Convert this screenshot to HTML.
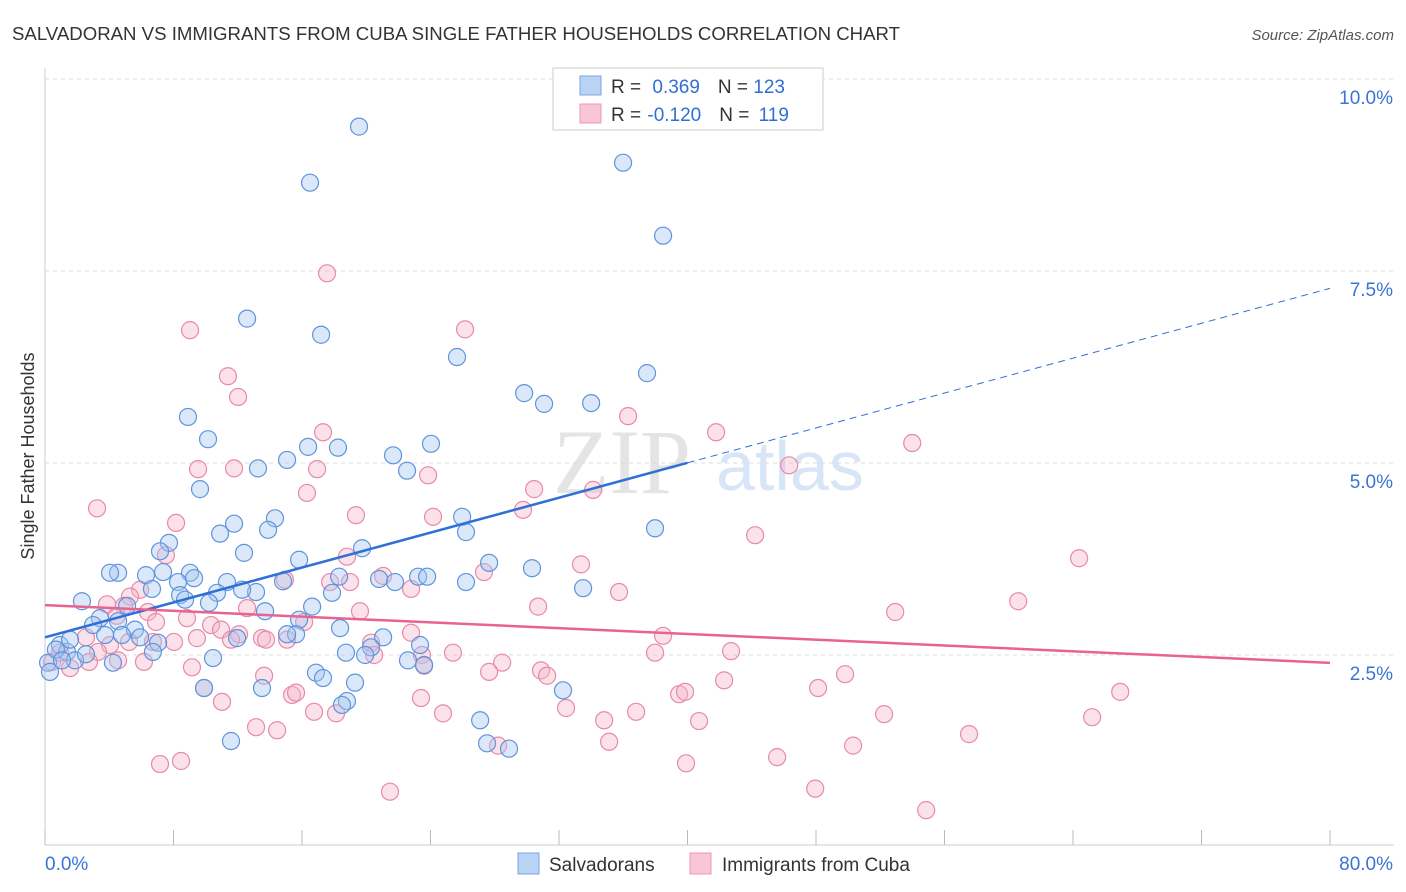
<!DOCTYPE html>
<html><head><meta charset="utf-8"><style>
body{margin:0;background:#fff;font-family:"Liberation Sans",sans-serif}
svg{display:block}
</style></head><body>
<svg id="chart" width="1406" height="892">
<text x="12" y="40" font-size="18" fill="#333" textLength="888" lengthAdjust="spacingAndGlyphs">SALVADORAN VS IMMIGRANTS FROM CUBA SINGLE FATHER HOUSEHOLDS CORRELATION CHART</text>
<text x="1394" y="40" font-size="15" fill="#555" font-style="italic" text-anchor="end">Source: ZipAtlas.com</text>
<text x="34" y="456" font-size="18" fill="#333" text-anchor="middle" transform="rotate(-90 34 456)">Single Father Households</text>
<g><text x="553" y="493" font-size="92" fill="#e4e4e4" font-family="Liberation Serif,serif">ZIP</text><text x="716" y="490" font-size="70" fill="#d7e5f6">atlas</text></g>
<g id="grid"></g><g id="axes"></g><g id="pts"></g><g id="trends"></g>
<g>
<rect x="553" y="68" width="270" height="62" fill="#fff" stroke="#ccc"/>
<rect x="580" y="76" width="21" height="19" fill="#b9d3f4" stroke="#7aa6e2"/>
<rect x="580" y="104" width="21" height="19" fill="#f8c6d6" stroke="#eb98b2"/>
<text x="611" y="93" font-size="19" fill="#333">R = <tspan fill="#2f6fd6" dx="6">0.369</tspan><tspan dx="18" fill="#333">N = </tspan><tspan fill="#2f6fd6">123</tspan></text>
<text x="611" y="121" font-size="19" fill="#333">R = <tspan fill="#2f6fd6" dx="1">-0.120</tspan><tspan dx="18" fill="#333">N = </tspan><tspan fill="#2f6fd6" dx="4">119</tspan></text>
</g>
<g>
<rect x="518" y="853" width="21" height="21" fill="#b9d3f4" stroke="#7aa6e2"/>
<text x="549" y="871" font-size="19" fill="#333">Salvadorans</text>
<rect x="690" y="853" width="21" height="21" fill="#f8c6d6" stroke="#eb98b2"/>
<text x="722" y="871" font-size="19" fill="#333">Immigrants from Cuba</text>
</g>
</svg>
<script>
const yTicks=[2.5,5.0,7.5,10.0];
const yTickLabels=["2.5%","5.0%","7.5%","10.0%"];
const xTicks=[0,8,16,24,32,40,48,56,64,72,80];
const xLabels=["0.0%","80.0%"];
const blueX=[19.55,35.99,16.5,38.48,12.58,17.19,25.65,37.48,29.83,31.07,34.0,8.9,10.15,24.03,18.24,16.38,21.67,15.07,13.26,22.54,9.65,25.97,14.32,11.77,37.98,13.89,26.21,10.9,7.72,19.74,7.16,12.39,15.82,27.65,30.32,4.55,6.29,7.35,9.03,8.28,9.28,11.33,4.05,14.82,18.31,20.8,21.79,23.23,23.79,26.21,33.5,6.66,8.41,13.14,12.27,10.71,8.72,10.21,2.3,5.11,3.42,4.55,5.6,13.7,15.82,16.63,17.87,2.99,3.74,4.79,5.92,7.04,18.37,15.63,11.96,15.07,21.05,20.3,23.35,18.74,19.93,22.6,23.6,6.72,0.93,1.37,1.87,0.19,0.31,0.68,2.55,4.23,10.46,16.87,17.31,13.51,9.9,19.3,32.25,18.8,18.49,27.09,11.58,27.52,28.89,1.56,1.06];
const blueY=[9.38,8.91,8.65,7.96,6.88,6.67,6.38,6.17,5.91,5.77,5.78,5.6,5.31,5.25,5.2,5.21,5.1,5.04,4.93,4.9,4.66,4.3,4.28,4.21,4.15,4.13,4.1,4.08,3.96,3.89,3.85,3.83,3.74,3.7,3.63,3.57,3.54,3.58,3.57,3.45,3.5,3.45,3.57,3.46,3.52,3.49,3.45,3.52,3.52,3.45,3.37,3.36,3.28,3.32,3.35,3.31,3.22,3.18,3.2,3.14,2.98,2.94,2.83,3.07,2.96,3.13,3.31,2.89,2.76,2.76,2.73,2.66,2.85,2.77,2.72,2.77,2.73,2.6,2.63,2.53,2.5,2.43,2.37,2.54,2.63,2.54,2.43,2.4,2.28,2.57,2.51,2.4,2.46,2.27,2.2,2.07,2.07,2.14,2.04,1.9,1.85,1.65,1.38,1.35,1.28,2.7,2.43];
const pinkX=[17.56,26.15,9.03,11.39,12.02,36.3,41.78,53.99,17.31,9.53,11.77,16.94,23.85,46.33,16.31,30.45,34.12,3.24,8.16,19.36,24.16,29.76,44.21,64.38,7.53,18.8,33.37,27.33,17.75,18.99,21.05,22.79,35.74,14.94,5.92,5.29,3.86,4.92,6.41,6.91,8.84,12.58,19.61,30.7,52.93,60.59,4.48,10.34,12.08,13.51,10.96,13.76,16.13,2.55,4.05,5.23,6.72,8.03,9.46,11.58,15.07,20.3,22.79,38.48,37.98,42.71,3.3,4.55,6.16,0.44,0.93,1.56,2.74,20.49,23.47,25.4,28.46,27.65,30.88,31.26,9.15,13.64,23.6,42.28,49.81,48.13,39.48,39.85,66.94,9.9,15.38,15.63,23.41,32.44,11.02,18.12,16.75,24.78,36.8,34.81,40.72,52.24,65.19,13.14,14.45,35.12,50.31,57.53,28.21,7.16,8.47,39.91,45.58,21.48,47.95,54.86];
const pinkY=[7.47,6.74,6.73,6.13,5.86,5.61,5.4,5.26,5.4,4.92,4.93,4.92,4.84,4.97,4.61,4.66,4.65,4.41,4.22,4.32,4.3,4.39,4.06,3.76,3.8,3.78,3.68,3.58,3.45,3.45,3.53,3.36,3.32,3.48,3.35,3.26,3.16,3.14,3.06,2.93,2.98,3.11,3.07,3.13,3.06,3.2,3.01,2.89,2.77,2.72,2.83,2.7,2.93,2.73,2.63,2.67,2.67,2.67,2.72,2.7,2.7,2.66,2.79,2.75,2.53,2.55,2.54,2.43,2.41,2.41,2.53,2.33,2.41,2.5,2.5,2.53,2.4,2.28,2.3,2.23,2.34,2.23,2.36,2.17,2.25,2.07,1.99,2.02,2.02,2.07,1.98,2.01,1.94,1.81,1.89,1.74,1.76,1.74,1.76,1.65,1.64,1.73,1.69,1.56,1.52,1.37,1.32,1.47,1.32,1.08,1.12,1.09,1.17,0.72,0.76,0.48];
const blueTrend=[2.73,0.0568];
const pinkTrend=[3.15,-0.0094];
const NS="http://www.w3.org/2000/svg";
const X0=45,X1=1330,YB=847,PXPER=76.8;
function sx(v){return X0+v/80*(X1-X0);}
function sy(v){return YB-v*PXPER;}
function mk(p,tag,a){const e=document.createElementNS(NS,tag);for(const k in a)e.setAttribute(k,a[k]);p.appendChild(e);return e;}
const grid=document.getElementById('grid'),axes=document.getElementById('axes'),pts=document.getElementById('pts'),tr=document.getElementById('trends');
mk(grid,'line',{x1:X0,x2:1394,y1:79,y2:79,stroke:'#ddd','stroke-dasharray':'4 4'});
yTicks.forEach((t,i)=>{
 const l=mk(grid,'line',{x1:X0,x2:1394,y1:sy(t),y2:sy(t),stroke:'#ddd','stroke-dasharray':'4 4'});
 
 
 const tx=mk(axes,'text',{x:1393,y:sy(t)+25,'font-size':19,fill:'#3a74d4','text-anchor':'end'});
 tx.textContent=yTickLabels[i];
 
 
});
const al=mk(axes,'line',{x1:X0,x2:X0,y1:68,y2:845,stroke:'#ccc'});


const bl=mk(axes,'line',{x1:X0,x2:1394,y1:845,y2:845,stroke:'#ccc'});


xTicks.forEach(t=>{
 const l=mk(axes,'line',{x1:sx(t),x2:sx(t),y1:830,y2:845,stroke:'#bbb'});
 
 
});
[[0,'start',45],[80,'end',1393]].forEach((d,i)=>{
 const tx=mk(axes,'text',{x:d[2],y:870,'font-size':19,fill:'#3a74d4','text-anchor':d[1]});
 tx.textContent=xLabels[i];
 
 
});
function series(xs,ys,fill,stroke,name){
 xs.forEach((x,i)=>{
  const c=mk(pts,'circle',{cx:sx(x),cy:sy(ys[i]),r:8.5,fill:fill,'fill-opacity':0.4,stroke:stroke,'stroke-width':1.2});
  
  
 });
}
series(pinkX,pinkY,'#f5b3c8','#e88aa8','cuba-point');
series(blueX,blueY,'#a6c6f0','#5f94dc','salvadoran-point');
let l=mk(tr,'line',{x1:sx(0),y1:sy(blueTrend[0]),x2:sx(40),y2:sy(blueTrend[0]+40*blueTrend[1]),stroke:'#2f6fd6','stroke-width':2.5});


l=mk(tr,'line',{x1:sx(40),y1:sy(blueTrend[0]+40*blueTrend[1]),x2:sx(80),y2:sy(blueTrend[0]+80*blueTrend[1]),stroke:'#2f6fd6','stroke-width':1,'stroke-dasharray':'7 5'});


l=mk(tr,'line',{x1:sx(0),y1:sy(pinkTrend[0]),x2:sx(80),y2:sy(pinkTrend[0]+80*pinkTrend[1]),stroke:'#e8638f','stroke-width':2.5});


</script>
</body></html>
